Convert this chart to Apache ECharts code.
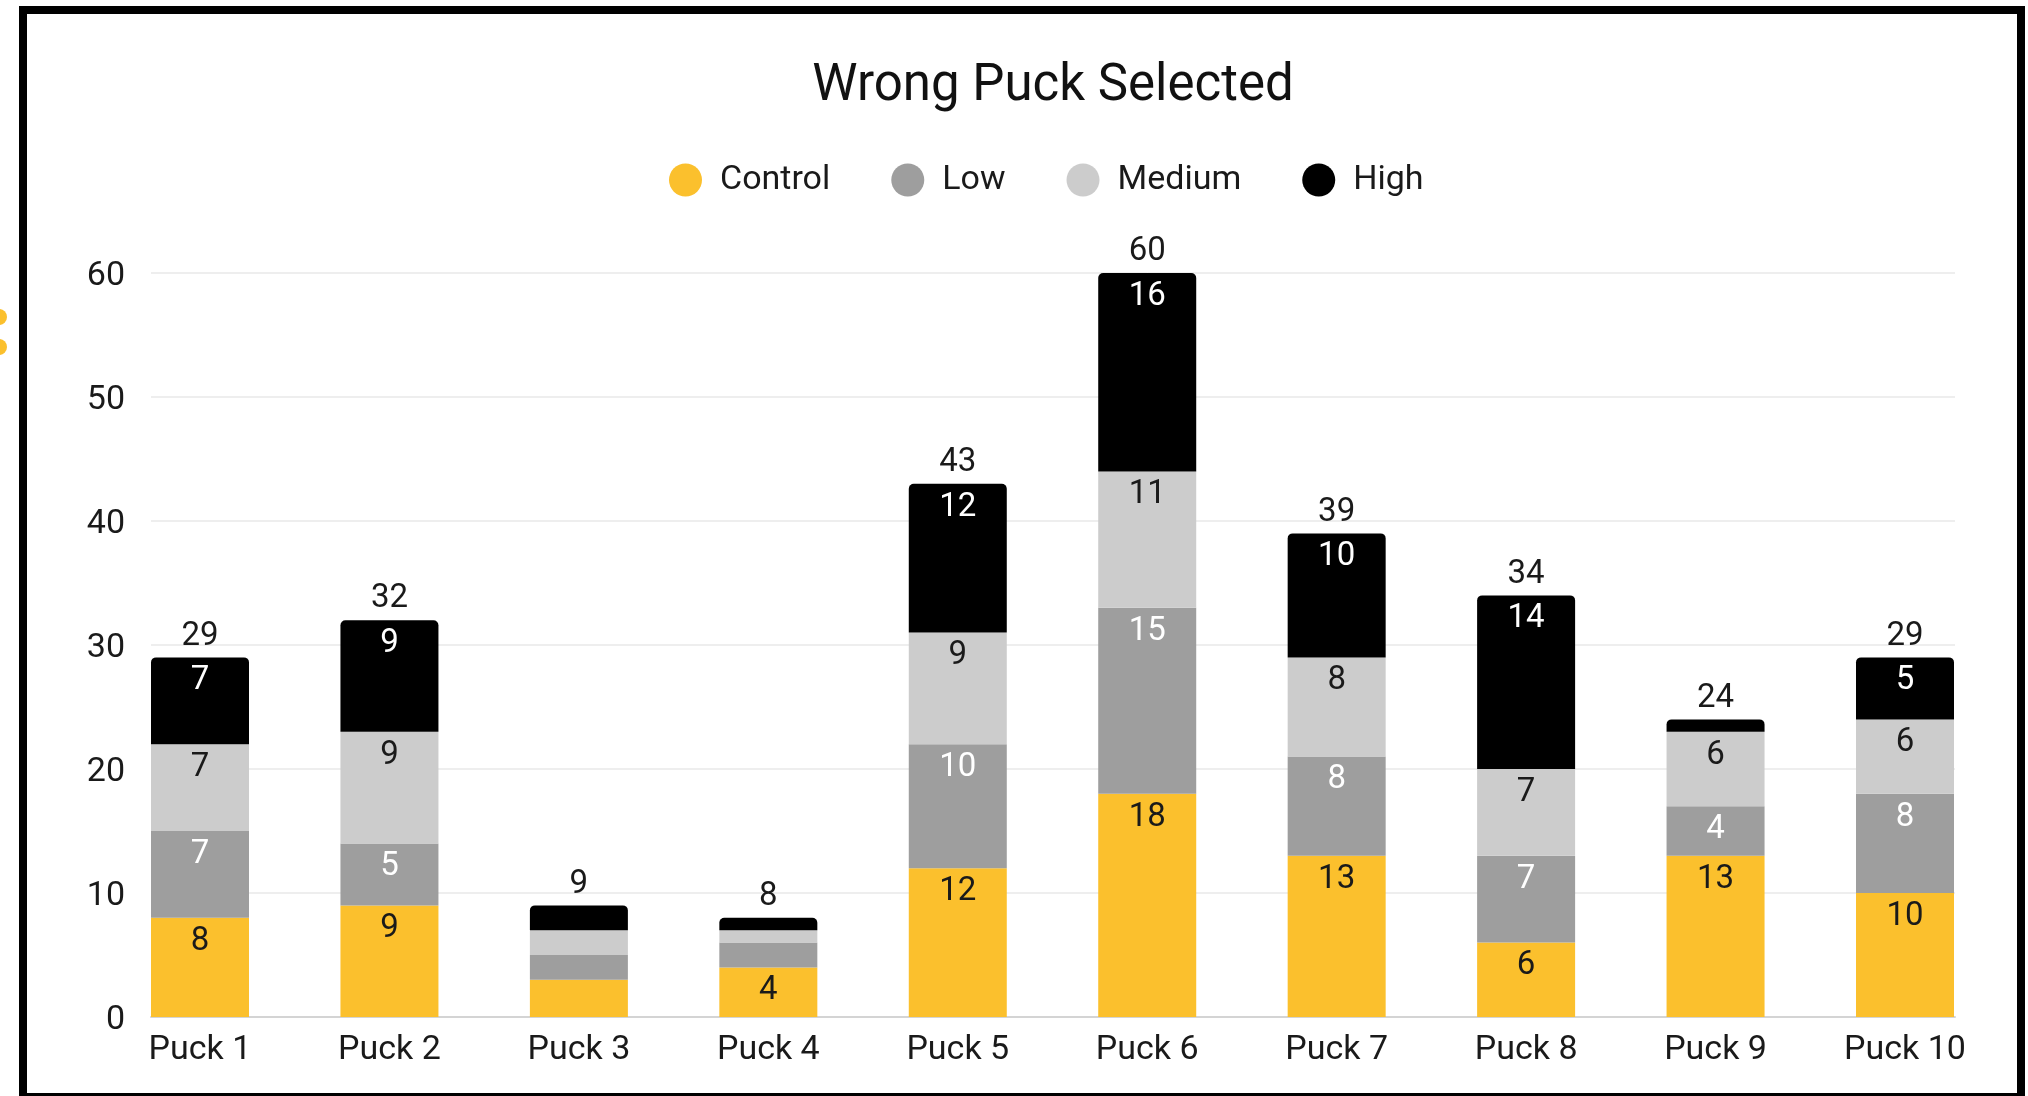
<!DOCTYPE html>
<html>
<head>
<meta charset="utf-8">
<script src="https://cdn.jsdelivr.net/npm/echarts@6/dist/echarts.min.js"></script>
<style>
  html, body { margin: 0; padding: 0; background: #ffffff; }
  #chart { width: 2028px; height: 1096px; }
</style>
</head>
<body>
<div id="chart"></div>
<script>
// Categories and stacked counts per puck
const pucks = ['Puck 1', 'Puck 2', 'Puck 3', 'Puck 4', 'Puck 5', 'Puck 6', 'Puck 7', 'Puck 8', 'Puck 9', 'Puck 10'];
const control = [8, 9, 3, 4, 12, 18, 13, 6, 13, 10];
const low     = [7, 5, 2, 2, 10, 15, 8, 7, 4, 8];
const medium  = [7, 9, 2, 1, 9, 11, 8, 7, 6, 6];
const high    = [7, 9, 2, 1, 12, 16, 10, 14, 1, 5];

// Value axis range
const yMin = 0;
const yMax = 60;
const yStep = 10;

const totals = pucks.map((_, i) => control[i] + low[i] + medium[i] + high[i]);

const FONT = 'Roboto';
const TEXT = '#1a1a1a';
const COLORS = { control: '#fbc02d', low: '#9e9e9e', medium: '#cccccc', high: '#000000' };

// Shared plot bounds
const TOP = 273, BOTTOM = 79;

const segLabel = (color) => ({
  show: true,
  position: 'insideTop',
  distance: 7,
  fontFamily: FONT,
  fontSize: 33,
  color: color,
  formatter: p => (p.value >= 4 ? String(p.value) : '')
});

function barSeries(name, data, color, labelColor, extra) {
  return Object.assign({
    name: name,
    type: 'bar',
    stack: 'total',
    xAxisIndex: 1,
    yAxisIndex: 1,
    barWidth: 98,
    data: data,
    z: 3,
    itemStyle: { color: color },
    label: segLabel(labelColor),
    emphasis: { disabled: true }
  }, extra || {});
}

const chart = echarts.init(document.getElementById('chart'), null, { renderer: 'canvas' });

chart.setOption({
  animation: false,
  backgroundColor: '#ffffff',
  textStyle: { fontFamily: FONT },
  graphic: [
    {
      type: 'text',
      x: 1053,
      y: 87,
      style: {
        text: 'Wrong Puck Selected',
        font: '51px Roboto',
        fill: '#111111',
        textAlign: 'center',
        textVerticalAlign: 'middle'
      }
    },
    // frame around the whole figure
    {
      type: 'rect',
      z: 100,
      shape: { x: 23, y: 10, width: 1998, height: 1087 },
      style: { fill: 'none', stroke: '#000000', lineWidth: 8 }
    },
    { type: 'circle', shape: { cx: -1, cy: 317, r: 8 }, style: { fill: COLORS.control } },
    { type: 'circle', shape: { cx: -1, cy: 347, r: 8 }, style: { fill: COLORS.control } }
  ],
  legend: {
    data: ['Control', 'Low', 'Medium', 'High'],
    left: 664,
    top: 158,
    icon: 'circle',
    itemWidth: 33,
    itemHeight: 33,
    itemGap: 61,
    textStyle: { fontFamily: FONT, fontSize: 34, color: TEXT, padding: [0, 0, 0, 13] },
    selectedMode: false
  },
  grid: [
    { left: 151, right: 73, top: TOP, bottom: BOTTOM },
    { left: 200, right: 123, top: TOP, bottom: BOTTOM }
  ],
  xAxis: [
    {
      gridIndex: 0,
      type: 'category',
      data: [''],
      axisLine: { show: true, lineStyle: { color: '#d4d4d4', width: 2 } },
      axisTick: { show: false },
      axisLabel: { show: false },
      splitLine: { show: false }
    },
    {
      gridIndex: 1,
      type: 'category',
      data: pucks,
      boundaryGap: false,
      axisLine: { show: false },
      axisTick: { show: false },
      splitLine: { show: false },
      axisLabel: { fontFamily: FONT, fontSize: 34, color: TEXT, margin: 16, interval: 0 }
    }
  ],
  yAxis: [
    {
      gridIndex: 0,
      type: 'value',
      min: yMin,
      max: yMax,
      interval: yStep,
      axisLine: { show: false },
      axisTick: { show: false },
      axisLabel: { fontFamily: FONT, fontSize: 34, color: TEXT, margin: 26, verticalAlign: 'top', lineHeight: 6 },
      splitLine: { show: true, lineStyle: { color: '#eeeeee', width: 2 } }
    },
    {
      gridIndex: 1,
      type: 'value',
      min: yMin,
      max: yMax,
      interval: yStep,
      show: false,
      splitLine: { show: false }
    }
  ],
  series: [
    barSeries('Control', control, COLORS.control, TEXT),
    barSeries('Low', low, COLORS.low, '#ffffff'),
    barSeries('Medium', medium, COLORS.medium, TEXT),
    barSeries('High', high, COLORS.high, '#ffffff', {
      itemStyle: { color: COLORS.high, borderRadius: [5, 5, 0, 0] }
    }),
    {
      // stack totals, shown as labels above each column
      name: 'Total',
      type: 'scatter',
      xAxisIndex: 1,
      yAxisIndex: 1,
      data: totals,
      symbol: 'circle',
      symbolSize: 1,
      z: 1,
      itemStyle: { color: '#ffffff', opacity: 1 },
      label: {
        show: true,
        position: 'top',
        distance: 4,
        fontFamily: FONT,
        fontSize: 33,
        color: TEXT,
        opacity: 1,
        formatter: p => String(p.value)
      },
      emphasis: { disabled: true }
    }
  ]
});
</script>
</body>
</html>
